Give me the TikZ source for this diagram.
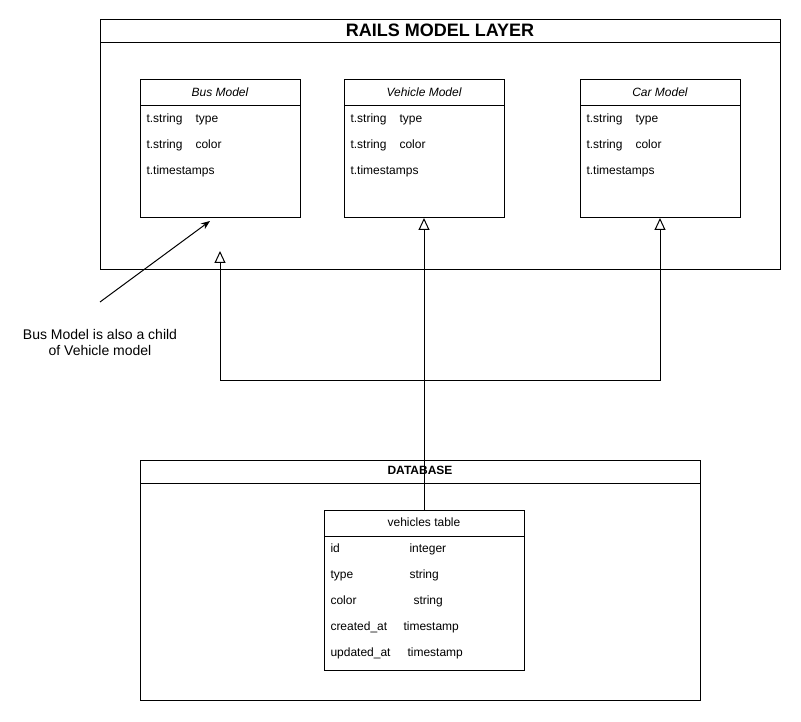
\documentclass[tikz,border=0pt]{standalone}
\usepackage{fontspec}
\setmainfont{Liberation Sans}
\usetikzlibrary{arrows.meta}
\begin{document}
\begin{tikzpicture}[x=1pt,y=-1pt,line width=1pt,
  box/.style={draw,rectangle,anchor=north west,inner sep=0pt,outer sep=0pt},
  cell/.style={anchor=west,inner sep=0pt,text height=8.6pt,text depth=2.4pt,font=\fontsize{12}{14}\selectfont},
  ctitle/.style={inner sep=0pt,text height=8.6pt,text depth=2.4pt,font=\itshape\fontsize{12}{14}\selectfont},
  inh/.style={-{Triangle[open,length=12pt,width=11pt]}}]
\useasboundingbox (0,0) rectangle (801,722);

% Rails layer
\node[box,minimum width=680,minimum height=250] (rails) at (100,20) {};
\draw (100,43) -- (780,43);
\node[inner sep=0pt,text height=13pt,text depth=3.6pt,font=\bfseries\fontsize{18}{20}\selectfont] (railstitle) at (440,32) {RAILS MODEL LAYER};

% Bus model
\node[box,minimum width=160,minimum height=138] (bus) at (140,80) {};
\draw (140,106) -- (300,106);
\node[ctitle] (bust) at (220,93) {Bus Model};
\node[cell] (bus1) at (146,119) {t.string};
\node[cell] (bus1b) at (195,119) {type};
\node[cell] (bus2) at (146,145) {t.string};
\node[cell] (bus2b) at (195,145) {color};
\node[cell] (bus3) at (146,171) {t.timestamps};

% Vehicle model
\node[box,minimum width=160,minimum height=138] (veh) at (344,80) {};
\draw (344,106) -- (504,106);
\node[ctitle] (veht) at (424,93) {Vehicle Model};
\node[cell] (veh1) at (350,119) {t.string};
\node[cell] (veh1b) at (399,119) {type};
\node[cell] (veh2) at (350,145) {t.string};
\node[cell] (veh2b) at (399,145) {color};
\node[cell] (veh3) at (350,171) {t.timestamps};

% Car model
\node[box,minimum width=160,minimum height=138] (car) at (580,80) {};
\draw (580,106) -- (740,106);
\node[ctitle] (cart) at (660,93) {Car Model};
\node[cell] (car1) at (586,119) {t.string};
\node[cell] (car1b) at (635,119) {type};
\node[cell] (car2) at (586,145) {t.string};
\node[cell] (car2b) at (635,145) {color};
\node[cell] (car3) at (586,171) {t.timestamps};

% Database
\node[box,minimum width=560,minimum height=240] (db) at (140,460) {};
\draw (140,483) -- (700,483);
\node[inner sep=0pt,text height=8.6pt,text depth=2.4pt,font=\bfseries\fontsize{12}{14}\selectfont] (dbt) at (420,471) {DATABASE};

% vehicles table
\node[box,minimum width=200,minimum height=160] (vt) at (324,510) {};
\draw (324,536) -- (524,536);
\node[inner sep=0pt,text height=8.6pt,text depth=2.4pt,font=\fontsize{12}{14}\selectfont] (vtt) at (424,523) {vehicles table};
\node[cell] (r1a) at (330,549) {id};
\node[cell] (r1b) at (409,549) {integer};
\node[cell] (r2a) at (330,575) {type};
\node[cell] (r2b) at (409,575) {string};
\node[cell] (r3a) at (330,601) {color};
\node[cell] (r3b) at (413,601) {string};
\node[cell] (r4a) at (330,627) {created\_at};
\node[cell] (r4b) at (403,627) {timestamp};
\node[cell] (r5a) at (330,653) {updated\_at};
\node[cell] (r5b) at (407,653) {timestamp};

% connectors
\coordinate (j) at (424,380);
\coordinate (busend) at (220,251);
\draw[inh] (vt.north) -- (veh.south);
\draw[inh] (j) -| (busend);
\draw[inh] (j) -| (car.south);

% annotation
\node[inner sep=0pt,align=center,font=\fontsize{14}{16}\selectfont] (note) at (100,342) {Bus Model is also a child\\of Vehicle model};
\coordinate (notestart) at (100,302);
\coordinate (noteend) at (210,221);
\draw[-{Stealth[length=9pt,width=7pt]}] (notestart) -- (noteend);
\end{tikzpicture}
\end{document}
